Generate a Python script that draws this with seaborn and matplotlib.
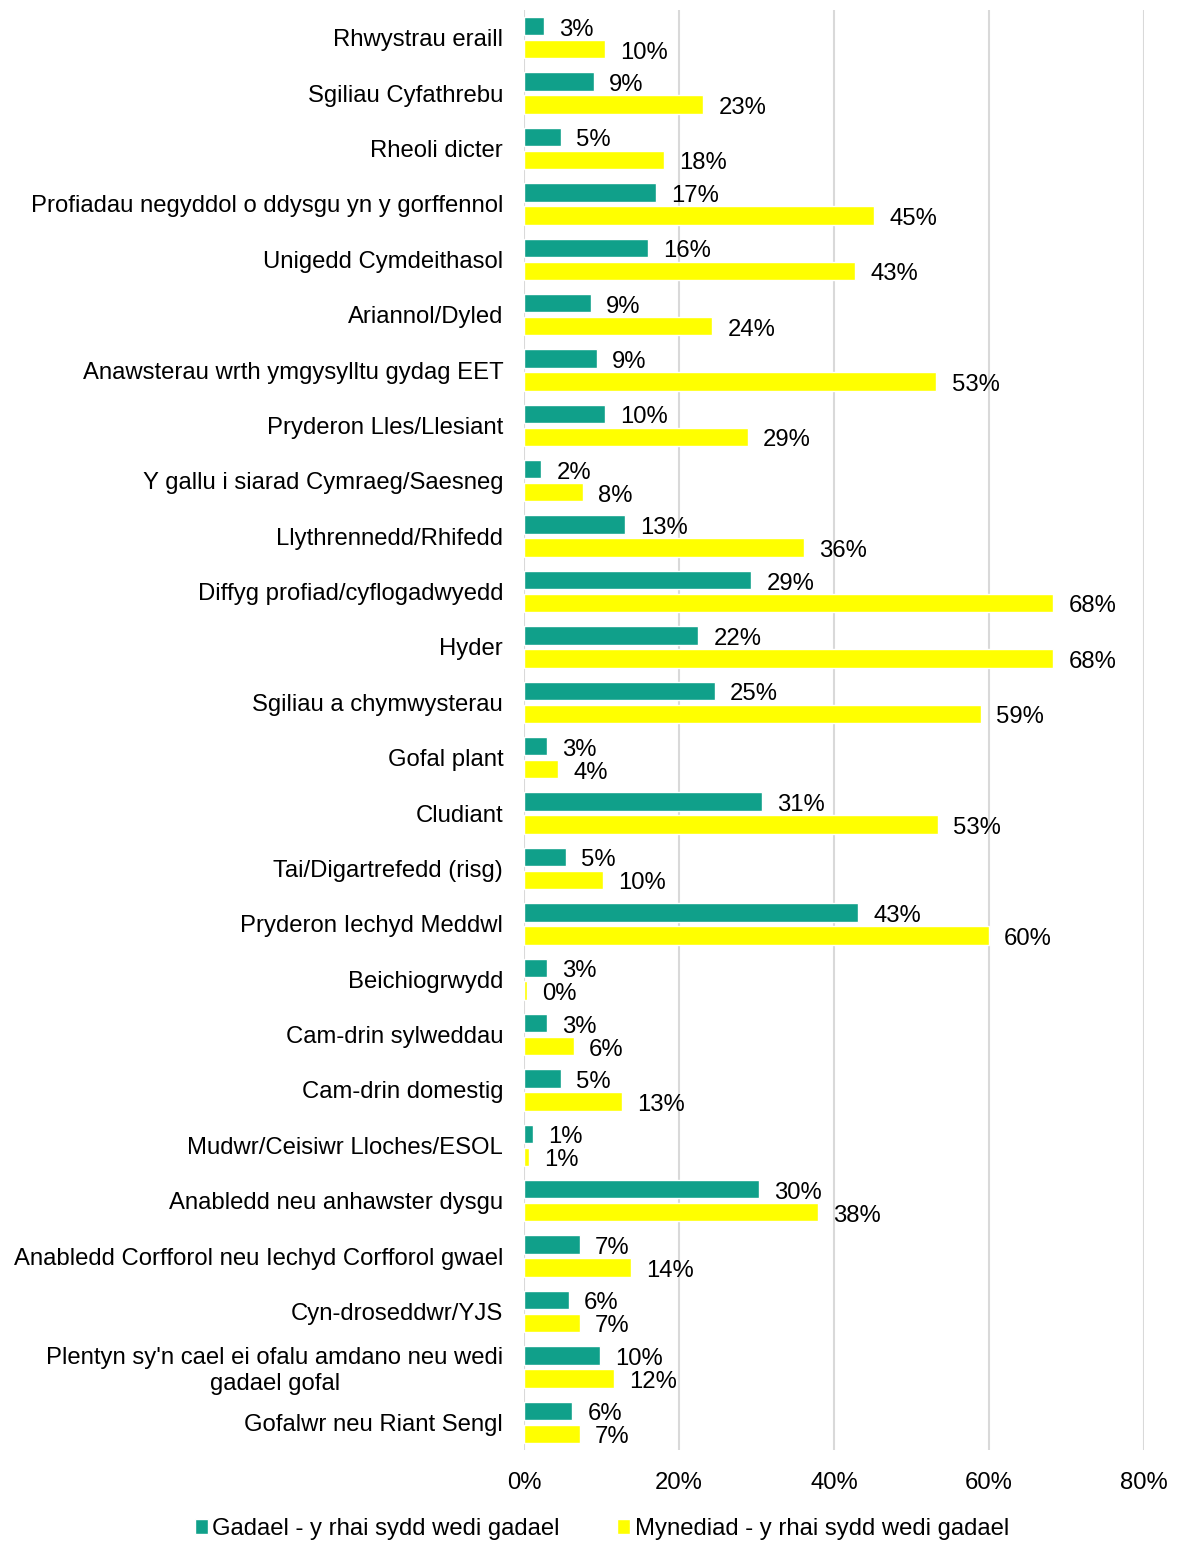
import pandas as pd
import matplotlib.pyplot as plt
import seaborn as sns

categories = [
    "Rhwystrau eraill",
    "Sgiliau Cyfathrebu",
    "Rheoli dicter",
    "Profiadau negyddol o ddysgu yn y gorffennol",
    "Unigedd Cymdeithasol",
    "Ariannol/Dyled",
    "Anawsterau wrth ymgysylltu gydag EET",
    "Pryderon Lles/Llesiant",
    "Y gallu i siarad Cymraeg/Saesneg",
    "Llythrennedd/Rhifedd",
    "Diffyg profiad/cyflogadwyedd",
    "Hyder",
    "Sgiliau a chymwysterau",
    "Gofal plant",
    "Cludiant",
    "Tai/Digartrefedd (risg)",
    "Pryderon Iechyd Meddwl",
    "Beichiogrwydd",
    "Cam-drin sylweddau",
    "Cam-drin domestig",
    "Mudwr/Ceisiwr Lloches/ESOL",
    "Anabledd neu anhawster dysgu",
    "Anabledd Corfforol neu Iechyd Corfforol gwael",
    "Cyn-droseddwr/YJS",
    "Plentyn sy'n cael ei ofalu amdano neu wedi\ngadael gofal",
    "Gofalwr neu Riant Sengl",
]
gadael = [2.6, 9.0, 4.8, 17.0, 16.0, 8.6, 9.4, 10.4, 2.2, 13.0, 29.3, 22.5, 24.6, 3.0,
          30.7, 5.4, 43.1, 3.0, 3.0, 4.8, 1.2, 30.3, 7.2, 5.8, 9.8, 6.2]
mynediad = [10.4, 23.1, 18.1, 45.2, 42.7, 24.3, 53.2, 28.9, 7.6, 36.1, 68.3, 68.3, 59.0, 4.4,
            53.4, 10.2, 60.0, 0.4, 6.4, 12.6, 0.6, 37.9, 13.8, 7.2, 11.6, 7.2]
series = ["Gadael - y rhai sydd wedi gadael", "Mynediad - y rhai sydd wedi gadael"]
colors = ["#10A08A", "#FFFF00"]

df = pd.DataFrame({
    "cat": categories * 2,
    "val": gadael + mynediad,
    "series": [series[0]] * len(categories) + [series[1]] * len(categories),
})

sns.set_style("white")
plt.rcParams["font.family"] = ["Liberation Sans", "DejaVu Sans"]
plt.rcParams["text.color"] = "black"
plt.rcParams["xtick.color"] = "black"
plt.rcParams["ytick.color"] = "black"
fs = 17.2

fig = plt.figure(figsize=(11.78, 15.42), dpi=100)
ax = fig.add_axes([0.4448, 0.0597, 0.5263, 0.9338])

sns.barplot(data=df, x="val", y="cat", hue="series", orient="h",
            palette=colors, saturation=1, width=0.83, gap=0.2, ax=ax, legend=True)

for cont in ax.containers:
    anns = ax.bar_label(cont, labels=[f"{round(b.get_width()):.0f}%" for b in cont],
                        padding=11, fontsize=fs, color="black")
    for a in anns:
        a.xyann = (11, -2.5)

ax.set_xlim(0, 80)
ax.set_xticks([0, 20, 40, 60, 80])
ax.set_xticklabels([f"{v}%" for v in [0, 20, 40, 60, 80]], fontsize=fs)
ax.tick_params(axis="x", pad=16, length=0, colors="black")
ax.tick_params(axis="y", pad=15, length=0, labelsize=fs, colors="black")
for t in ax.get_yticklabels():
    t.set_multialignment("center")
ax.set_xlabel("")
ax.set_ylabel("")
ax.xaxis.grid(True, color="#d9d9d9", linewidth=1.5)
ax.set_axisbelow(True)
for s in ax.spines.values():
    s.set_visible(False)

ax.legend(loc="center", bbox_to_anchor=(602 / 1178, 1 - 1529 / 1542),
          bbox_transform=fig.transFigure, ncol=2, frameon=False, fontsize=fs,
          handlelength=0.55, handleheight=0.55, handletextpad=0.2, columnspacing=2.4)

fig.savefig("out.png", dpi=100)
